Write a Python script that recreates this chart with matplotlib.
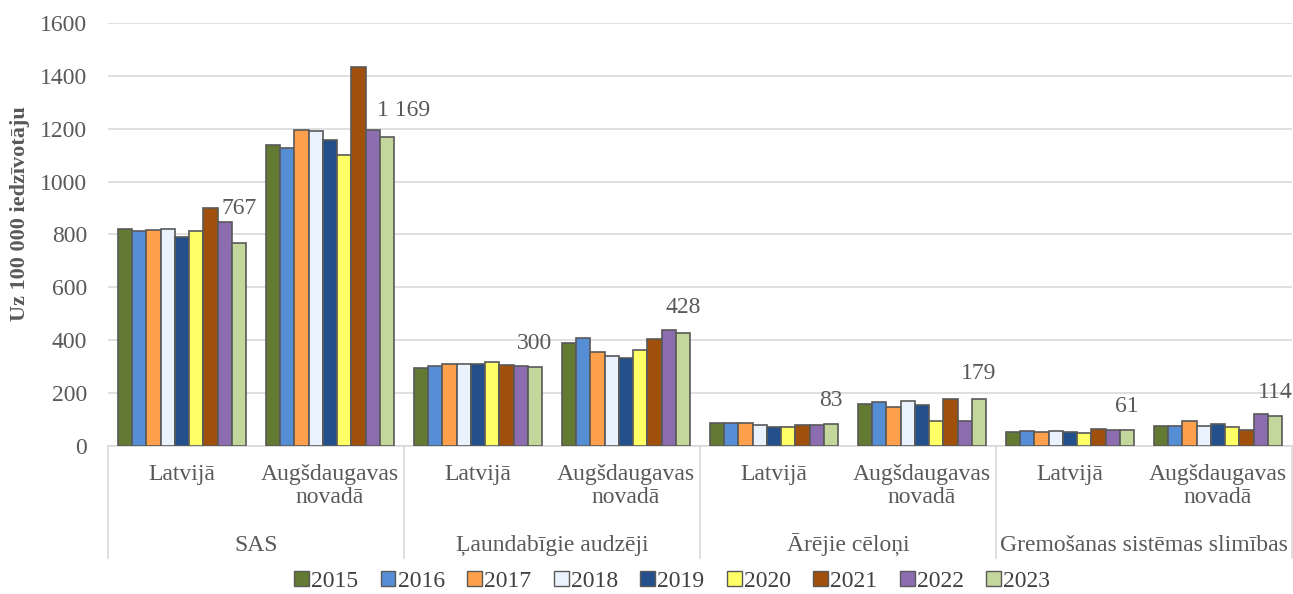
import matplotlib.pyplot as plt
import matplotlib.transforms as mtransforms
from matplotlib.patches import Patch
import numpy as np

plt.rcParams["font.family"] = ["Liberation Serif", "DejaVu Serif"]

years = ["2015", "2016", "2017", "2018", "2019", "2020", "2021", "2022", "2023"]
groups = ["SAS", "Ļaundabīgie audzēji", "Ārējie cēloņi", "Gremošanas sistēmas slimības"]
regions = ["Latvijā", "Augšdaugavas\nnovadā"]

# rows: (group, region) pairs in order; columns: years
values = [
    [820, 813, 816, 820, 789, 814, 901, 847, 767],      # SAS, Latvijā
    [1140, 1129, 1196, 1192, 1158, 1100, 1434, 1196, 1169],  # SAS, Augšdaugavas
    [296, 301, 309, 309, 310, 316, 306, 301, 300],      # Ļaundabīgie, Latvijā
    [390, 408, 355, 342, 331, 362, 405, 439, 428],      # Ļaundabīgie, Augšdaugavas
    [88, 87, 86, 80, 71, 71, 80, 78, 83],               # Ārējie, Latvijā
    [160, 166, 146, 169, 156, 95, 179, 95, 179],        # Ārējie, Augšdaugavas
    [52, 55, 53, 57, 53, 50, 65, 62, 61],               # Gremošanas, Latvijā
    [76, 74, 96, 75, 85, 72, 62, 122, 114],             # Gremošanas, Augšdaugavas
]

colors = ["#627a31", "#558ed5", "#ffa04c", "#eaf3fd", "#23508a",
          "#ffff66", "#a0500a", "#8c6db0", "#c3d69b"]

text_col = "#595959"
fs = 17

fig = plt.figure(figsize=(12.93, 5.94), dpi=100)
ax = fig.add_axes([108 / 1293, 1 - 446 / 594, 1184 / 1293, 423 / 594])

data = np.array(values)
n_cat, n_year = data.shape
x = np.arange(n_cat)
width = 0.865 / n_year

for j in range(n_year):
    pos = x - 0.865 / 2 + width * (j + 0.5)
    ax.bar(pos, data[:, j], width=width, color=colors[j],
           edgecolor="#595959", linewidth=1.2, zorder=3)

# data labels on last year only
last_pos = x - 0.865 / 2 + width * (n_year - 0.5)
label_offsets = [(0, 25), (12, 19), (0, 17), (0, 18), (0, 17), (0, 18), (0, 17), (0, 17)]
for i in range(n_cat):
    v = data[i, -1]
    txt = f"{v:,}".replace(",", " ")
    dx, dy = label_offsets[i]
    ax.annotate(txt, (last_pos[i], v), xytext=(dx, dy), textcoords="offset points",
                ha="center", va="center", fontsize=fs, color=text_col)

ax.set_xlim(-0.5, n_cat - 0.5)
ax.set_ylim(0, 1600)
ax.set_yticks(range(0, 1601, 200))
ax.tick_params(axis="y", length=0, labelsize=fs, labelcolor=text_col, pad=15)
ax.tick_params(axis="x", length=0, labelbottom=False)
ax.grid(axis="y", color="#d9d9d9", linewidth=1.2, zorder=0)
for s in ["top", "right", "left"]:
    ax.spines[s].set_visible(False)
ax.spines["bottom"].set_color("#d9d9d9")
ax.spines["bottom"].set_linewidth(1.2)

ax.set_ylabel("Uz 100 000 iedzīvotāju", fontsize=16, fontweight="bold", color=text_col)
ax.yaxis.set_label_coords(-0.066, 0.55)

trans = mtransforms.blended_transform_factory(ax.transData, ax.transAxes)
for i in range(n_cat):
    ax.text(x[i], -0.042, regions[i % 2], transform=trans, ha="center", va="top",
            fontsize=fs, color=text_col, linespacing=1.15)
for g, name in enumerate(groups):
    ax.text(2 * g + 0.5, -0.236, name, transform=trans, ha="center", va="center",
            fontsize=fs, color=text_col)
for b in np.arange(-0.5, n_cat, 2):
    ax.plot([b, b], [0, -0.265], transform=trans, color="#d9d9d9",
            linewidth=1.2, clip_on=False)

handles = [Patch(facecolor=c, edgecolor="#595959", label=y) for c, y in zip(colors, years)]
fig.legend(handles=handles, loc="center", bbox_to_anchor=(0.52, 0.021), ncol=9,
           frameon=False, fontsize=fs, handlelength=0.62, handleheight=0.62,
           handletextpad=0.1, columnspacing=0.95, labelcolor="#404040",
           borderaxespad=0, borderpad=0)

fig.savefig("out.png", dpi=100)
